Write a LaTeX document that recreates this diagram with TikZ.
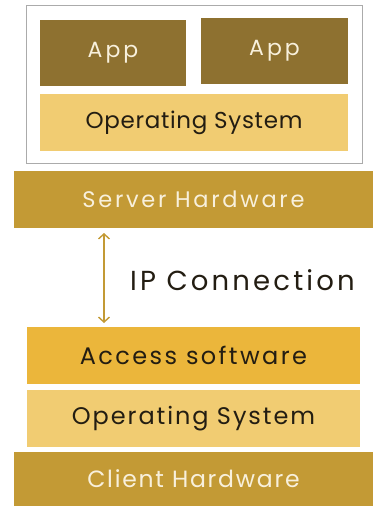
\documentclass[tikz,border=0pt]{standalone}
\usepackage{fontspec}
\setmainfont{Poppins}
\usetikzlibrary{arrows.meta}
\definecolor{appfill}{HTML}{8E7130}
\definecolor{osfill}{HTML}{F1CC72}
\definecolor{hwfill}{HTML}{C39A35}
\definecolor{accfill}{HTML}{EBB63B}
\definecolor{lighttext}{HTML}{F8F0DC}
\definecolor{darktext}{HTML}{231D12}
\definecolor{framegray}{HTML}{ABABAB}
% size and tracking of a label
\newcommand{\lblfont}[2]{\fontsize{#1}{#1}\selectfont\addfontfeatures{LetterSpace=#2}}
\begin{document}
\begin{tikzpicture}[x=1pt,y=-1pt,
  layer/.style={anchor=north west, inner sep=0pt, outer sep=0pt, align=center},
  darklbl/.style={text=darktext},
  lightlbl/.style={text=lighttext}]
\useasboundingbox (0,0) rectangle (373,506);

% server side: frame with two apps on an operating system
\node[layer, draw=framegray, line width=1pt, minimum width=336pt, minimum height=158pt] (frame) at (26,5) {};
\node[layer, fill=appfill, minimum width=146pt, minimum height=66pt, lightlbl, font=\lblfont{22}{14}] (app1) at (40,20) {App};
\node[layer, fill=appfill, minimum width=147pt, minimum height=66pt, lightlbl, font=\lblfont{22}{14}] (app2) at (201,18) {App};
\node[layer, fill=osfill, minimum width=308pt, minimum height=57pt, darklbl, font=\lblfont{23}{3}] (os1) at (40,94) {Operating System};
\node[layer, fill=hwfill, minimum width=359pt, minimum height=57pt, lightlbl, font=\lblfont{22.5}{12}] (server) at (14,171) {Server Hardware};

% client side stack
\node[layer, fill=accfill, minimum width=333pt, minimum height=57pt, darklbl, font=\lblfont{24}{10}] (access) at (27,327) {Access software};
\node[layer, fill=osfill, minimum width=333pt, minimum height=57pt, darklbl, font=\lblfont{24}{8}] (os2) at (27,390) {Operating System};
\node[layer, fill=hwfill, minimum width=359pt, minimum height=54pt, lightlbl, font=\lblfont{23.5}{7.5}] (client) at (14,452) {Client Hardware};

% link between the two machines
\coordinate (linkx) at (104,0);
\draw[hwfill, line width=1.4pt, {Straight Barb[length=5pt,width=11pt]}-{Straight Barb[length=5pt,width=11pt]},
  shorten <=5pt, shorten >=4pt] (server.south -| linkx) -- (access.north -| linkx);
\node[anchor=west, inner sep=0pt, text=darktext, font=\lblfont{27.5}{11.5}] (ip) at (130,280) {IP Connection};
\end{tikzpicture}
\end{document}
